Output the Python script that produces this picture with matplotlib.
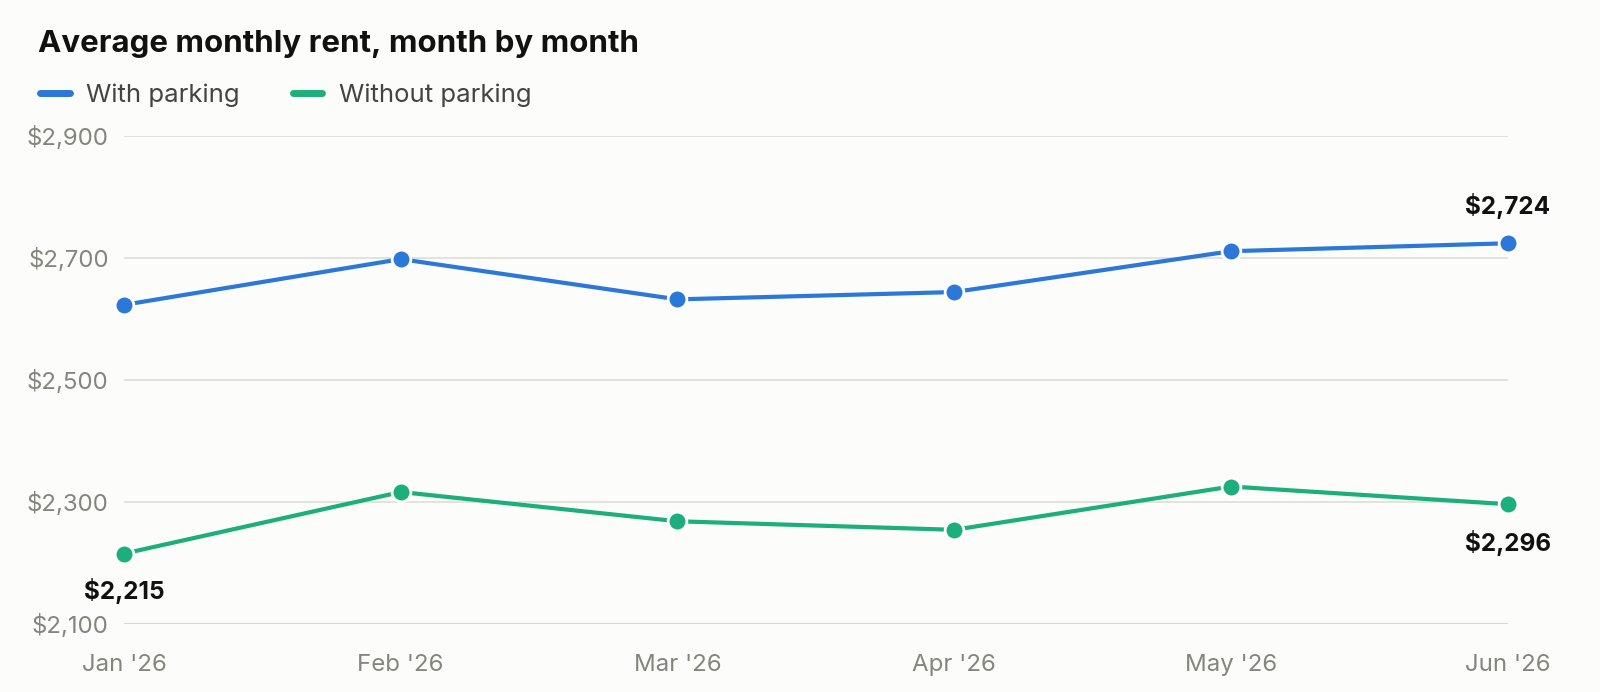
import matplotlib.pyplot as plt
from matplotlib.lines import Line2D
from matplotlib.ticker import FuncFormatter

plt.rcParams['font.family'] = ['Inter', 'DejaVu Sans']

# data
months = ["Jan '26", "Feb '26", "Mar '26", "Apr '26", "May '26", "Jun '26"]
with_parking = [2623, 2698, 2632, 2644, 2711, 2724]
without_parking = [2215, 2316, 2268, 2254, 2325, 2296]
yticks = [2100, 2300, 2500, 2700, 2900]

blue = '#2C78D8'
green = '#1CAE7C'
bg = '#FCFCFA'

fig = plt.figure(figsize=(16, 6.92), dpi=100, facecolor=bg)
ax = fig.add_axes([0.0775, 0.0987, 0.8648, 0.7048])
ax.set_facecolor(bg)

x = list(range(len(months)))
for vals, col in [(with_parking, blue), (without_parking, green)]:
    ax.plot(x, vals, color=col, lw=3, marker='o', ms=13.5,
            markeredgecolor='white', markeredgewidth=2, clip_on=False, zorder=3)

ax.set_xlim(0, len(months) - 1)
ax.set_ylim(2100, 2900)
ax.set_yticks(yticks)
ax.yaxis.set_major_formatter(FuncFormatter(lambda v, p: '${:,.0f}'.format(v)))
ax.set_xticks(x)
ax.set_xticklabels(months)
ax.tick_params(length=0, labelsize=17.3, labelcolor='#858580')
ax.tick_params(axis='y', pad=11)
ax.tick_params(axis='x', pad=22)

for s in ax.spines.values():
    s.set_visible(False)
ax.grid(axis='y', color='#DEDED8', lw=1.2, zorder=0)
ax.axhline(2100, color='#BDBDB0', lw=1.5, zorder=1)

# end-point labels
lab = dict(textcoords='offset points', ha='center', va='center',
           fontsize=17.5, fontweight='bold', color='#111111', annotation_clip=False)
ax.annotate('${:,}'.format(with_parking[-1]), (x[-1], with_parking[-1]),
            xytext=(0, 27), **lab)
ax.annotate('${:,}'.format(without_parking[-1]), (x[-1], without_parking[-1]),
            xytext=(0, -28), **lab)
ax.annotate('${:,}'.format(without_parking[0]), (x[0], without_parking[0]),
            xytext=(0, -27), **lab)

fig.text(0.024, 0.936, 'Average monthly rent, month by month', fontsize=22.5,
         fontweight='bold', color='#111111', va='center', ha='left')

handles = [Line2D([], [], color=blue, lw=5, solid_capstyle='round'),
           Line2D([], [], color=green, lw=5, solid_capstyle='round')]
fig.legend(handles, ['With parking', 'Without parking'], loc='center left',
           bbox_to_anchor=(0.025, 0.863), ncol=2, frameon=False, fontsize=18.5,
           handlelength=1.15, handletextpad=0.65, columnspacing=2.05,
           borderpad=0, borderaxespad=0, labelcolor='#444444')

fig.savefig('out.png', dpi=100, facecolor=bg)
